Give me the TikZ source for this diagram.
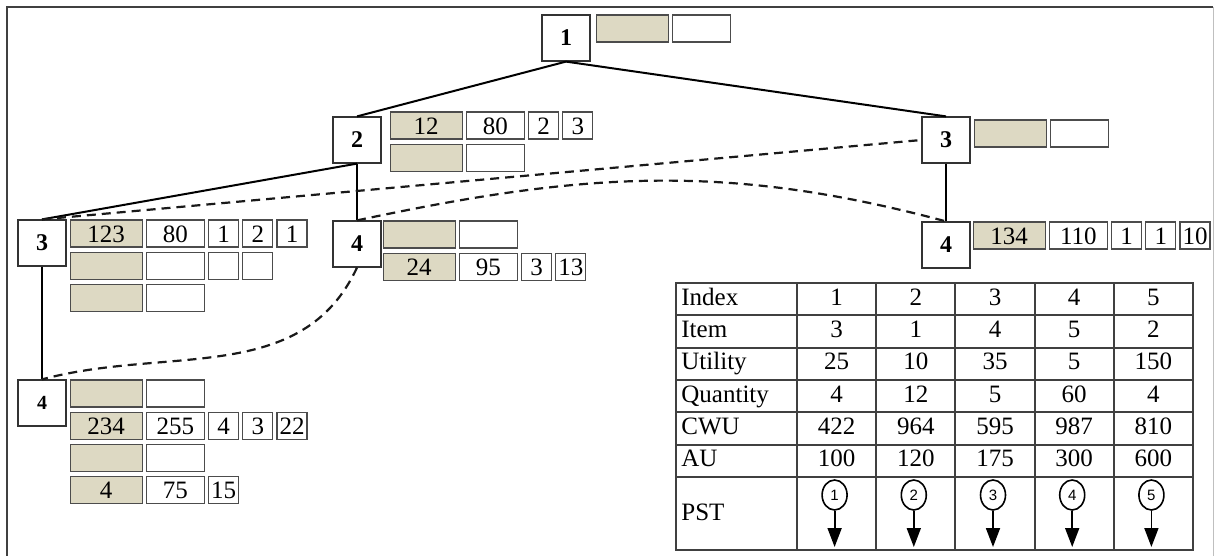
\documentclass[tikz,border=0pt]{standalone}
\usepackage{fontspec}
\setmainfont{Liberation Serif}
\setsansfont{Liberation Sans}
\usetikzlibrary{positioning}
\usetikzlibrary{arrows.meta}
\usetikzlibrary{shapes.geometric}
\definecolor{tancol}{HTML}{DDD9C3}
\tikzstyle{tnode} = [rectangle, draw=black!80, fill=white, line width=0.6pt, minimum width=24pt, minimum height=23pt, inner sep=0pt, font=\fontsize{12}{12}\selectfont\bfseries]
\tikzstyle{tanbox} = [rectangle, draw=black!70, fill=tancol, line width=0.6pt, minimum width=36pt, minimum height=13.5pt, inner sep=0pt, text height=8.5pt, text depth=0pt, font=\fontsize{12.5}{13}\selectfont]
\tikzstyle{whitebox} = [tanbox, fill=white, minimum width=29pt]
\tikzstyle{smallbox} = [tanbox, fill=white, minimum width=15pt]
\tikzstyle{tree} = [line width=1pt]
\tikzstyle{link} = [line width=1.1pt, black!90, dash pattern=on 4.5pt off 3pt]
\tikzstyle{grid} = [black!75, line width=0.7pt]
\tikzstyle{tabtext} = [inner sep=0pt, text height=8.5pt, text depth=2.5pt, font=\fontsize{12.5}{13}\selectfont]
\tikzstyle{pstnode} = [ellipse, draw, line width=0.8pt, minimum width=12.5pt, minimum height=15pt, inner sep=0pt, font=\sffamily\fontsize{7.5}{7.5}\selectfont]
\tikzstyle{pstarrow} = [-{Triangle[width=7pt,length=9.5pt]}, line width=0.9pt]
\newcommand{\cellgap}{1.5pt}

\begin{document}
\begin{tikzpicture}[x=0.5pt, y=0.5pt, node distance=\cellgap]

  \useasboundingbox (0,0) rectangle (1215,-556);

  % frame
  \draw [black!75, line width=1pt] (7,-556) -- (7,-7) -- (1213,-7);
  \draw [black!25, line width=0.5pt] (1213,-7) -- (1213,-556);

  % Tree nodes
  \node [tnode] (n1)  at (566,-38)  {1};
  \node [tnode] (n2)  at (357,-140) {2};
  \node [tnode] (n3r) at (946,-140) {3};
  \node [tnode] (n3l) at (42,-243)  {3};
  \node [tnode] (n4m) at (357,-244) {4};
  \node [tnode] (n4r) at (946,-245) {4};
  \node [tnode, font=\fontsize{10}{10}\selectfont\bfseries] (n4b) at (42,-403) {4};

  % cells of 1
  \node [tanbox, anchor=north west] (c1a) at ([xshift=2.5pt]n1.north east) {};
  \node [whitebox, right=of c1a] (c1b) {};

  % cells of 2
  \node [tanbox, anchor=north west] (c2a) at ([xshift=4pt, yshift=2.5pt]n2.north east) {12};
  \node [whitebox, right=of c2a] (c2b) {80};
  \node [smallbox, right=of c2b] (c2c) {2};
  \node [smallbox, right=of c2c] (c2d) {3};
  \node [tanbox, below=2pt of c2a] (c2e) {};
  \node [whitebox, right=of c2e] (c2f) {};

  % cells of 3 (right)
  \node [tanbox, anchor=north west] (c3ra) at ([xshift=\cellgap, yshift=-1.5pt]n3r.north east) {};
  \node [whitebox, right=of c3ra] (c3rb) {};

  % cells of 4 (right)
  \node [tanbox, anchor=north west] (c4ra) at ([xshift=1pt]n4r.north east) {134};
  \node [whitebox, right=of c4ra] (c4rb) {110};
  \node [smallbox, right=of c4rb] (c4rc) {1};
  \node [smallbox, right=of c4rc] (c4rd) {1};
  \node [smallbox, right=of c4rd] (c4re) {10};

  % cells of 3 (left)
  \node [tanbox, anchor=north west] (c3la) at ([xshift=\cellgap]n3l.north east) {123};
  \node [whitebox, right=of c3la] (c3lb) {80};
  \node [smallbox, right=of c3lb] (c3lc) {1};
  \node [smallbox, right=of c3lc] (c3ld) {2};
  \node [smallbox, right=of c3ld] (c3le) {1};
  \node [tanbox, below=2pt of c3la] (c3lf) {};
  \node [whitebox, right=of c3lf] (c3lg) {};
  \node [smallbox, right=of c3lg] (c3lh) {};
  \node [smallbox, right=of c3lh] (c3li) {};
  \node [tanbox, below=2pt of c3lf] (c3lj) {};
  \node [whitebox, right=of c3lj] (c3lk) {};

  % cells of 4 (middle)
  \node [tanbox, anchor=north west] (c4ma) at ([xshift=0.5pt]n4m.north east) {};
  \node [whitebox, right=of c4ma] (c4mb) {};
  \node [tanbox, below=2pt of c4ma] (c4mc) {24};
  \node [whitebox, right=of c4mc] (c4md) {95};
  \node [smallbox, right=of c4md] (c4me) {3};
  \node [smallbox, right=of c4me] (c4mf) {13};

  % cells of 4 (bottom)
  \node [tanbox, anchor=north west] (c4ba) at ([xshift=1.5pt]n4b.north east) {};
  \node [whitebox, right=of c4ba] (c4bb) {};
  \node [tanbox, below=2pt of c4ba] (c4bc) {234};
  \node [whitebox, right=of c4bc] (c4bd) {255};
  \node [smallbox, right=of c4bd] (c4be) {4};
  \node [smallbox, right=of c4be] (c4bf) {3};
  \node [smallbox, right=of c4bf] (c4bg) {22};
  \node [tanbox, below=2pt of c4bc] (c4bh) {};
  \node [whitebox, right=of c4bh] (c4bi) {};
  \node [tanbox, below=2pt of c4bh] (c4bj) {4};
  \node [whitebox, right=of c4bj] (c4bk) {75};
  \node [smallbox, right=of c4bk] (c4bl) {15};

  % tree edges
  \draw [tree] (n1.south) -- (n2.north);
  \draw [tree] (n1.south) -- (n3r.north);
  \draw [tree] (n2.south) -- (n3l.north);
  \draw [tree] (n2.south) -- (n4m.north);
  \draw [tree] (n3r.south) -- (n4r.north);
  \draw [tree] (n3l.south) -- (n4b.north);

  % links
  \draw [link] (n3l.north) -- (n3r.west);
  \draw [link] (n4m.north) to [out=12, in=165] (n4r.north);
  \draw [link] (n4m.south) to [out=-115, in=15] (n4b.north);

  % table
  \draw [grid] (676,-283) rectangle (1193,-550);
  \foreach \y in {315,348,380,412,445,477}
    \draw [grid] (676,-\y) -- (1193,-\y);
  \foreach \x in {797,876,955,1035,1114}
    \draw [grid] (\x,-283) -- (\x,-550);

  \foreach \rowname/\vals [count=\r] in {Index/{1,2,3,4,5}, Item/{3,1,4,5,2}, Utility/{25,10,35,5,150}, Quantity/{4,12,5,60,4}, CWU/{422,964,595,987,810}, AU/{100,120,175,300,600}} {
    \node [tabtext, anchor=west] (r\r) at (681,{-283-32.3*(\r-0.5)}) {\rowname};
    \foreach \v [count=\c] in \vals
      \node [tabtext] (r\r-\c) at ({797+79.2*(\c-0.5)},{-283-32.3*(\r-0.5)}) {\v};
  }

  % PST row
  \node [tabtext, anchor=west] (pst) at (681,-514) {PST};
  \foreach \c in {1,...,5} {
    \node [pstnode] (e\c) at ({797+79.2*(\c-0.5)-2},-495) {\c};
    \coordinate (tip\c) at ({797+79.2*(\c-0.5)-2},-547);
    \draw [pstarrow] (e\c.south) -- (tip\c);
  }

\end{tikzpicture}
\end{document}
